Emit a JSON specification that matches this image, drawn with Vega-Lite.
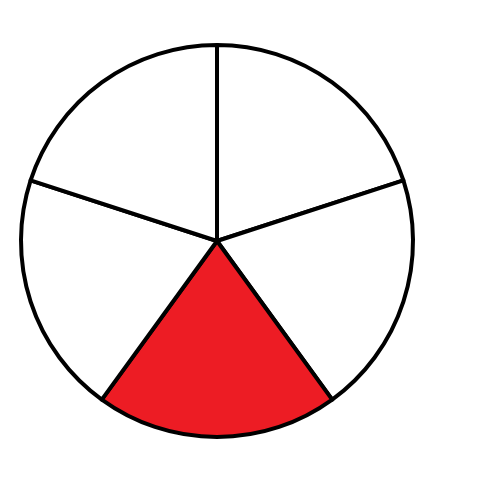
{
  "$schema": "https://vega.github.io/schema/vega-lite/v6.json",
  "autosize": "none",
  "padding": 0,
  "width": 434,
  "height": 482,
  "background": "white",
  "data": {"values": [
    {"slice": "A", "value": 1, "shaded": "no"},
    {"slice": "B", "value": 1, "shaded": "no"},
    {"slice": "C", "value": 1, "shaded": "yes"},
    {"slice": "D", "value": 1, "shaded": "no"},
    {"slice": "E", "value": 1, "shaded": "no"}
  ]},
  "mark": {"type": "arc", "outerRadius": 196, "stroke": "black", "strokeWidth": 4, "strokeJoin": "round"},
  "encoding": {
    "theta": {"field": "value", "type": "quantitative", "stack": true},
    "order": {"field": "slice", "type": "nominal"},
    "color": {"field": "shaded", "type": "nominal", "scale": {"domain": ["no", "yes"], "range": ["white", "#ED1C24"]}, "legend": null}
  },
  "config": {"view": {"stroke": null}}
}
